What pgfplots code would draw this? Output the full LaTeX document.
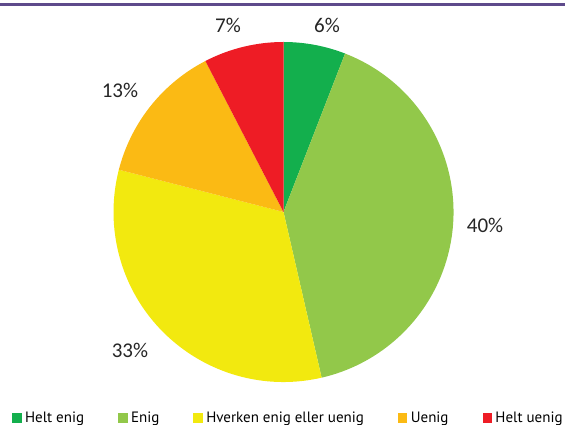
\documentclass[border=0pt]{standalone}
\usepackage{pgfplots}
\usepackage{pgfplotstable}
\pgfplotsset{compat=1.18}
\usepackage{fontspec}
\setmainfont{PT Sans}
\newfontfamily\labelfont{Carlito}

\definecolor{col0}{HTML}{13AF4D}
\definecolor{col1}{HTML}{92C84A}
\definecolor{col2}{HTML}{F2E90F}
\definecolor{col3}{HTML}{FBBA14}
\definecolor{col4}{HTML}{EE1C25}
\definecolor{topline}{HTML}{5E4A8B}

% share of each answer (percent), clockwise from 12 o'clock
\pgfplotstableread{
value pct
5.9   6
40.5  40
32.6  33
13.4  13
7.6   7
}\piedata

\pgfplotsset{
  sq/.style={legend image code/.code={%
    \fill[#1] (0pt,-4pt) rectangle (8.5pt,4.5pt);
    \path (12.5pt,0pt);}},
}

\begin{document}
\begin{tikzpicture}
\useasboundingbox (0,0) rectangle (565pt,425pt);

% start/end angle of each slice
\def\cum{0}
\pgfplotsforeachungrouped \i in {0,...,4}{%
  \pgfplotstablegetelem{\i}{value}\of\piedata
  \let\v\pgfplotsretval
  \pgfmathsetmacro\sa{90-3.6*\cum}
  \pgfmathsetmacro\cum{\cum+\v}
  \pgfmathsetmacro\ea{90-3.6*\cum}
  \expandafter\xdef\csname sa\i\endcsname{\sa}
  \expandafter\xdef\csname ea\i\endcsname{\ea}
}

\begin{axis}[
    at={(0,0)}, anchor=south west,
    scale only axis,
    width=565pt, height=425pt,
    xmin=0, xmax=565, ymin=0, ymax=425,
    hide axis,
    clip=false,
    legend columns=5,
    legend style={
        draw=none, fill=none,
        at={(axis description cs:0.0212,0.017)}, anchor=west,
        inner sep=0pt,
        font=\fontsize{15}{17}\selectfont,
        nodes={inner sep=0pt},
        /tikz/every even column/.append style={column sep=34pt},
    },
]
  \pgfplotsinvokeforeach{0,...,4}{
    \fill[col#1] (axis cs:283.5,213) -- ++(\csname sa#1\endcsname:170pt)
      arc[start angle=\csname sa#1\endcsname, end angle=\csname ea#1\endcsname, radius=170pt] -- cycle;
  }

  \addlegendimage{sq=col0}\addlegendentry{Helt enig}
  \addlegendimage{sq=col1}\addlegendentry{Enig}
  \addlegendimage{sq=col2}\addlegendentry{Hverken enig eller uenig}
  \addlegendimage{sq=col3}\addlegendentry{Uenig}
  \addlegendimage{sq=col4}\addlegendentry{Helt uenig}

  \begin{scope}[every node/.style={font=\labelfont\fontsize{21}{24}\selectfont, text=black!85}]
    \node at (axis cs:327,400) {6\%};
    \node at (axis cs:485,200) {40\%};
    \node at (axis cs:130,75) {33\%};
    \node at (axis cs:120,335) {13\%};
    \node at (axis cs:228,400) {7\%};
  \end{scope}

  \draw[topline, line width=3.3pt] (axis cs:0,420.7) -- (axis cs:565,420.7);
\end{axis}
\end{tikzpicture}
\end{document}
